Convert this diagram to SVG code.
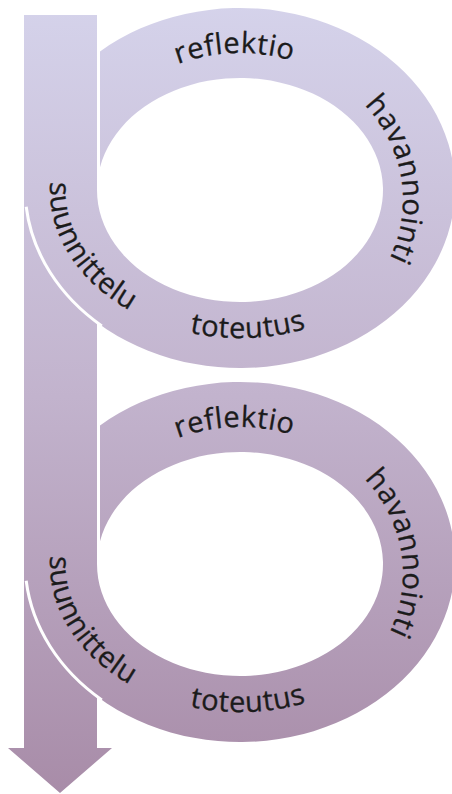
<svg xmlns="http://www.w3.org/2000/svg" xmlns:xlink="http://www.w3.org/1999/xlink" width="452" height="794" viewBox="0 0 452 794">
  <defs>
    <linearGradient id="gradA" gradientUnits="userSpaceOnUse" x1="0" y1="0" x2="0" y2="794">
      <stop offset="0" stop-color="#d5d3eb"/>
      <stop offset="0.5" stop-color="#c2b3cd"/>
      <stop offset="1" stop-color="#a88ca8"/>
    </linearGradient>
    <linearGradient id="gradB" gradientUnits="userSpaceOnUse" x1="0" y1="-374" x2="0" y2="420">
      <stop offset="0" stop-color="#d5d3eb"/>
      <stop offset="0.5" stop-color="#c2b3cd"/>
      <stop offset="1" stop-color="#a88ca8"/>
    </linearGradient>
    <path id="pReflektio" d="M96.1,131 A163,147 0 0 1 378.2,122.1"/>
    <path id="pHavannointi" d="M301.1,63.7 A163,147 0 0 1 340.4,315.8"/>
    <path id="pSuunnittelu" d="M88.3,100.9 A190,148 0 0 0 216.8,336.9"/>
    <path id="pToteutus" d="M80.6,270.6 A190,148 0 0 0 409.3,257.2"/>
  </defs>
  <style>
    .lbl { font-family: "Open Sans", "Noto Sans", "DejaVu Sans", sans-serif; font-size: 29px; fill: #1b1b1b; stroke: #1b1b1b; stroke-width: 0.3; letter-spacing: 0.5px; }
    .sep { fill: none; stroke: #ffffff; stroke-width: 3; }
  </style>

  <g id="arrow">
    <path d="M24,15 H97 V748 H112 L60,793 L8,748 H24 Z" fill="url(#gradA)"/>
  </g>

  <g id="cycle1">
    <path class="ring" fill="url(#gradA)" d="M100,51.4 A215,180 0 1 1 25,188 L97,190 A143,112 0 1 0 100,167.2 Z"/>
    <path class="sep" d="M26.2,206.8 A215,180 0 0 0 101.8,325.9"/>
    <g id="c1-reflektio"><text class="lbl" text-anchor="middle"><textPath xlink:href="#pReflektio" href="#pReflektio" startOffset="50%">reflektio</textPath></text></g>
    <g id="c1-havannointi"><text class="lbl" text-anchor="middle"><textPath xlink:href="#pHavannointi" href="#pHavannointi" startOffset="50%">havannointi</textPath></text></g>
    <g id="c1-suunnittelu"><text class="lbl" text-anchor="middle"><textPath xlink:href="#pSuunnittelu" href="#pSuunnittelu" startOffset="50%">suunnittelu</textPath></text></g>
    <g id="c1-toteutus"><text class="lbl" text-anchor="middle"><textPath xlink:href="#pToteutus" href="#pToteutus" startOffset="50%">toteutus</textPath></text></g>
  </g>

  <g id="cycle2" transform="translate(0,374)">
    <path class="ring" fill="url(#gradB)" d="M100,51.4 A215,180 0 1 1 25,188 L97,190 A143,112 0 1 0 100,167.2 Z"/>
    <path class="sep" d="M26.2,206.8 A215,180 0 0 0 101.8,325.9"/>
    <g id="c2-reflektio"><text class="lbl" text-anchor="middle"><textPath xlink:href="#pReflektio" href="#pReflektio" startOffset="50%">reflektio</textPath></text></g>
    <g id="c2-havannointi"><text class="lbl" text-anchor="middle"><textPath xlink:href="#pHavannointi" href="#pHavannointi" startOffset="50%">havannointi</textPath></text></g>
    <g id="c2-suunnittelu"><text class="lbl" text-anchor="middle"><textPath xlink:href="#pSuunnittelu" href="#pSuunnittelu" startOffset="50%">suunnittelu</textPath></text></g>
    <g id="c2-toteutus"><text class="lbl" text-anchor="middle"><textPath xlink:href="#pToteutus" href="#pToteutus" startOffset="50%">toteutus</textPath></text></g>
  </g>
</svg>
